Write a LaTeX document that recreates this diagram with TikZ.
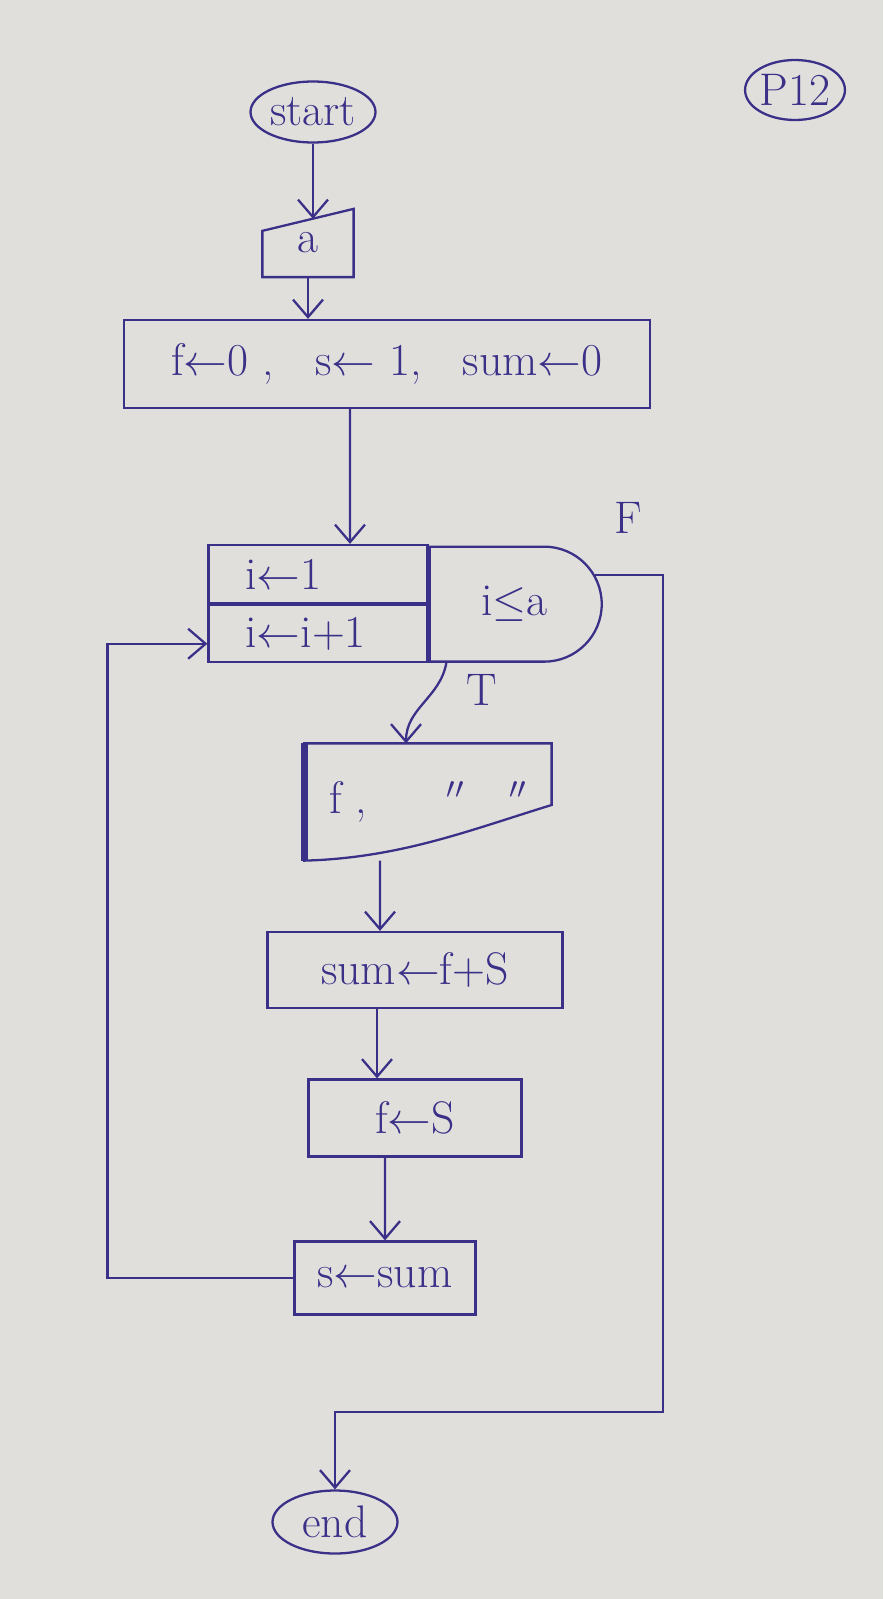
\documentclass[tikz,border=0pt]{standalone}
\usepackage{amssymb}
\usetikzlibrary{arrows.meta,shapes.geometric,shapes.misc,positioning,calc}
\definecolor{ink}{RGB}{58,48,135}
\definecolor{paper}{RGB}{224,223,220}
\begin{document}
\begin{tikzpicture}[x=0.02cm, y=-0.02cm, color=ink, line width=1.3pt,
        >={Straight Barb[length=3.5mm,width=6mm]},
        font=\fontsize{26}{30}\selectfont,
        term/.style={ellipse, draw, inner sep=0pt},
        box/.style={rectangle, draw, inner sep=0pt},
        flow/.style={->}]
        % Foglio
        \useasboundingbox (0,0) rectangle (883,1599);
        \fill[paper] (0,0) rectangle (883,1599);

        % Pagina
        \node[ellipse, draw, minimum width=1.9cm, minimum height=1.2cm, inner sep=0pt] (pnum) at (795,90) {P12};

        % Inizio e input
        \node[term, minimum width=2.5cm, minimum height=1.22cm] (start) at (313,112) {start};
        \node[inner sep=0pt, minimum width=1.78cm, minimum height=1.32cm] (ina) at (308,243) {a};
        \draw ($(ina.north west)+(0,22)$) -- (ina.north east) -- (ina.south east) -- (ina.south west) -- cycle;

        % Inizializzazione
        \node[box, minimum width=10.52cm, minimum height=1.76cm] (init) at (387,364) {f$\leftarrow$0 ,\ \ \ s$\leftarrow$ 1,\ \ \ sum$\leftarrow$0\hspace{0.6cm}};

        % Ciclo
        \node[box, minimum width=4.38cm, minimum height=1.16cm, text width=2.9cm] (i1) at (318,574) {i$\leftarrow$1};
        \node[box, minimum width=4.38cm, minimum height=1.14cm, text width=2.9cm, below=0pt of i1] (iinc) {i$\leftarrow$i+1};
        \node[draw, rounded rectangle, rounded rectangle west arc=none, inner sep=0pt,
              minimum width=3.44cm, minimum height=2.3cm, anchor=west] (cond) at (i1.south east) {i$\leq$a\hspace{0.3cm}};

        % Output
        \node[inner sep=0pt, minimum width=4.9cm, minimum height=2.3cm] (out) at (428,802) {f ,\hspace{1.6cm}$''$\hspace{0.9cm}$''$\hspace{1.6cm}};
        \draw (out.north west) -- (out.north east) -- ($(out.east)+(0,3)$)
            .. controls (470,830) and (400,858) .. (out.south west) -- cycle;
        \draw[line width=4pt] (out.north west) -- (out.south west);

        % Corpo
        \node[box, minimum width=5.9cm, minimum height=1.52cm] (sumbox) at (415,970) {sum$\leftarrow$f+S};
        \node[box, minimum width=4.26cm, minimum height=1.54cm] (fbox) at (415,1118) {f$\leftarrow$S};
        \node[box, minimum width=3.62cm, minimum height=1.46cm] (sbox) at (385,1278) {s$\leftarrow$sum};

        % Fine
        \node[term, minimum width=2.5cm, minimum height=1.26cm] (finish) at (335,1522) {end};

        % Frecce
        \draw[flow] (start.south) -- ([yshift=-0.2cm]start.south |- ina.north);
        \draw[flow] (ina.south) -- (ina.south |- init.north);
        \draw[flow] ([xshift=-0.74cm]init.south) -- ([xshift=0.64cm]i1.north);
        \draw[flow] ([xshift=-1.36cm]cond.south) to[out=-100, in=90] ([xshift=-0.44cm]out.north);
        \draw[flow] ([xshift=-0.96cm]out.south) -- ([xshift=-0.7cm]sumbox.north);
        \draw[flow] ([xshift=-0.76cm]sumbox.south) -- ([xshift=-0.76cm]fbox.north);
        \draw[flow] ([xshift=-0.6cm]fbox.south) -- (sbox.north);
        \draw[flow] (sbox.west) -| ([xshift=-2cm,yshift=-0.2cm]iinc.west) -- ([yshift=-0.2cm]iinc.west);
        \draw[flow] (cond.20) -| (663,1412) -| (finish.north);

        % Etichette
        \node (tlab) at (482,690) {T};
        \node (flab) at (628,518) {F};
\end{tikzpicture}
\end{document}
